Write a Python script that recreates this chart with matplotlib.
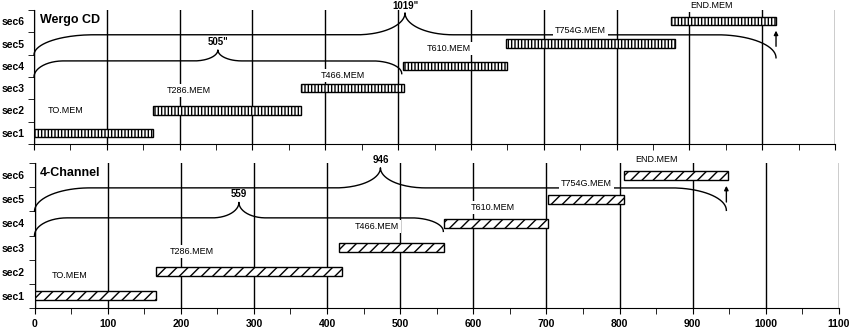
import numpy as np
import matplotlib.pyplot as plt

plt.rcParams['font.family'] = ['Liberation Sans', 'DejaVu Sans']
plt.rcParams['hatch.linewidth'] = 1.0

# data
sections = ['sec1', 'sec2', 'sec3', 'sec4', 'sec5', 'sec6']
files = ['TO.MEM', 'T286.MEM', 'T466.MEM', 'T610.MEM', 'T754G.MEM', 'END.MEM']

wergo_start = [0, 164, 366, 507, 648, 875]
wergo_end = [164, 367, 508, 649, 880, 1019]
wergo_braces = [505, 1019]
wergo_brace_labels = ['505"', '1019"']

four_start = [0, 166, 416, 560, 702, 806]
four_end = [166, 420, 560, 702, 806, 948]
four_braces = [559, 946]
four_brace_labels = ['559', '946']

xticks = list(range(0, 1101, 100))

# layout (label positions, brace levels)
wergo_lbl_pos = [(43, 1.48), (212, 2.4), (424, 3.05), (570, 4.26), (750, 5.08), (930, 6.19)]
four_lbl_pos = [(48, 1.33), (215, 2.34), (468, 3.36), (627, 4.16), (755, 5.15), (850, 6.14)]


def brace(ax, x1, y_left, y_right, y_line, y_peak, label, label_y):
    we = 0.08 * x1
    wp = 0.065 * x1
    xm = x1 / 2
    t = np.linspace(0, np.pi / 2, 40)
    xa = we * (1 - np.cos(t))
    ya = y_left + (y_line - y_left) * np.sin(t)
    xb = xm - wp + wp * np.sin(t)
    yb = y_line + (y_peak - y_line) * (1 - np.cos(t))
    tr = t[::-1]
    xc = xm + wp - wp * np.sin(tr)
    yc = y_line + (y_peak - y_line) * (1 - np.cos(tr))
    xd = x1 - we * (1 - np.cos(tr))
    yd = y_right + (y_line - y_right) * np.sin(tr)
    xs = np.concatenate([xa, xb, xc, xd])
    ys = np.concatenate([ya, yb, yc, yd])
    ax.plot(xs, ys, color='black', lw=1, zorder=2, clip_on=False)
    ax.text(xm, label_y, label, ha='center', va='center', fontsize=7,
            fontweight='bold', zorder=4)


def panel(ax, starts, ends, lbl_pos, hatch, title, title_y, show_x):
    y = np.arange(len(sections)) + 0.5
    widths = np.array(ends) - np.array(starts)
    ax.barh(y, widths, left=starts, height=0.37, color='white',
            edgecolor='black', hatch=hatch, lw=1, zorder=3)
    for name, (lx, ly) in zip(files, lbl_pos):
        ax.text(lx, ly, name, ha='center', va='center', fontsize=6.5, zorder=3,
                bbox=dict(facecolor='white', edgecolor='none', pad=1.5))
    ax.set_xlim(0, 1100)
    ax.set_ylim(0, 6)
    ax.set_xticks(xticks)
    ax.set_xticks(range(50, 1100, 100), minor=True)
    ax.grid(axis='x', color='black', lw=1)
    ax.set_axisbelow(True)
    ax.set_yticks(y)
    ax.set_yticklabels(sections, fontsize=7.5, fontweight='bold')
    ax.set_yticks(range(0, 7), minor=True)
    ax.tick_params(axis='y', which='major', length=0, pad=7)
    ax.tick_params(axis='y', which='minor', length=4, direction='out')
    ax.tick_params(axis='x', which='both', length=4, direction='out', pad=4)
    if show_x:
        ax.set_xticklabels([str(v) for v in xticks], fontsize=7.5, fontweight='bold')
    else:
        ax.set_xticklabels([])
    for s in ['top', 'right']:
        ax.spines[s].set_visible(False)
    ax.text(0.007, title_y, title, transform=ax.transAxes, fontsize=9,
            fontweight='bold', ha='left', va='center', zorder=4,
            bbox=dict(facecolor='white', edgecolor='none', pad=0.5))


fig = plt.figure(figsize=(8.5, 3.3), dpi=100)
ax1 = fig.add_axes([34 / 850, 1 - 144 / 330, (835 - 34) / 850, 134 / 330])
ax2 = fig.add_axes([34.5 / 850, 1 - 308 / 330, (839 - 34.5) / 850, 145 / 330])

panel(ax1, wergo_start, wergo_end, wergo_lbl_pos, '|||||', 'Wergo CD', 0.925, False)
brace(ax1, wergo_braces[0], 3.0, 3.15, 3.72, 4.21, wergo_brace_labels[0], 4.55)
brace(ax1, wergo_braces[1], 3.99, 3.86, 4.89, 5.87, wergo_brace_labels[1], 6.2)
ax1.annotate('', xy=(wergo_end[-1], 5.2), xytext=(wergo_end[-1], 4.25),
             arrowprops=dict(arrowstyle='-|>', lw=1, color='black', mutation_scale=6))

panel(ax2, four_start, four_end, four_lbl_pos, '///', '4-Channel', 0.93, True)
brace(ax2, four_braces[0], 3.0, 3.17, 3.73, 4.37, four_brace_labels[0], 4.72)
brace(ax2, four_braces[1], 4.0, 4.04, 4.97, 5.8, four_brace_labels[1], 6.12)
ax2.annotate('', xy=(four_braces[1], 5.17), xytext=(four_braces[1], 4.27),
             arrowprops=dict(arrowstyle='-|>', lw=1, color='black', mutation_scale=6))

fig.savefig('out.png', dpi=100)
